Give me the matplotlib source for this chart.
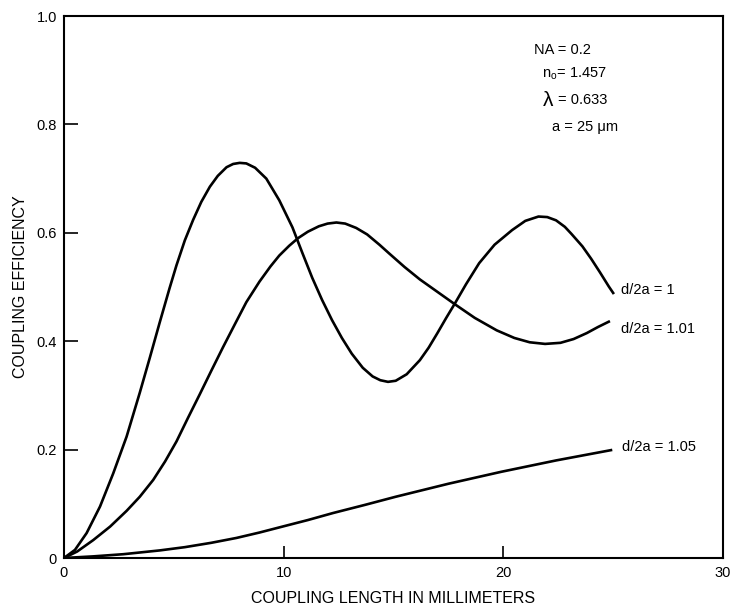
import matplotlib
matplotlib.use('Agg')
import matplotlib.pyplot as plt

plt.rcParams['font.family'] = ['Liberation Sans', 'DejaVu Sans']
plt.rcParams['mathtext.fontset'] = 'custom'
plt.rcParams['mathtext.rm'] = 'Liberation Sans'

# d/2a = 1
x1 = [0, 0.5, 1.03, 1.64, 2.24, 2.85, 3.45, 3.91, 4.36, 4.8, 5.12, 5.5, 5.88, 6.25, 6.64,
      7.0, 7.4, 7.7, 8.0, 8.3, 8.7, 9.21, 9.8, 10.4, 10.85, 11.3, 11.75, 12.2, 12.65, 13.1,
      13.6, 14.05, 14.4, 14.75, 15.1, 15.6, 16.2, 16.6, 17.0, 17.4, 17.8, 18.3, 18.9, 19.6,
      20.4, 21.0, 21.6, 22.0, 22.4, 22.8, 23.1, 23.6, 24.0, 24.4, 24.8, 25.0]
y1 = [0, 0.015, 0.046, 0.095, 0.156, 0.224, 0.305, 0.370, 0.435, 0.497, 0.540, 0.586, 0.624,
      0.657, 0.685, 0.705, 0.721, 0.727, 0.729, 0.728, 0.720, 0.700, 0.660, 0.610, 0.563, 0.517,
      0.476, 0.439, 0.406, 0.377, 0.351, 0.335, 0.328, 0.325, 0.327, 0.339, 0.365, 0.388, 0.415,
      0.443, 0.470, 0.505, 0.544, 0.578, 0.605, 0.622, 0.630, 0.629, 0.623, 0.611, 0.598,
      0.575, 0.552, 0.527, 0.501, 0.489]

# d/2a = 1.01
x2 = [0, 0.6, 1.33, 2.1, 2.85, 3.45, 4.06, 4.6, 5.12, 5.65, 6.18, 6.7, 7.24, 7.8, 8.3, 8.9,
      9.4, 9.8, 10.25, 10.65, 11.1, 11.6, 12.0, 12.4, 12.8, 13.3, 13.8, 14.36, 14.8, 15.5,
      16.2, 17.0, 17.8, 18.7, 19.7, 20.5, 21.2, 21.9, 22.6, 23.2, 23.8, 24.3, 24.8]
y2 = [0, 0.012, 0.033, 0.058, 0.087, 0.113, 0.144, 0.178, 0.215, 0.259, 0.302, 0.345, 0.389,
      0.433, 0.472, 0.510, 0.538, 0.558, 0.576, 0.590, 0.602, 0.612, 0.617, 0.619, 0.617, 0.609,
      0.597, 0.578, 0.562, 0.537, 0.514, 0.491, 0.468, 0.443, 0.420, 0.406, 0.398, 0.395, 0.397,
      0.404, 0.415, 0.426, 0.436]

# d/2a = 1.05
x3 = [0, 1.33, 2.7, 4.36, 5.5, 6.7, 7.85, 8.9, 9.95, 11.1, 12.25, 13.7, 15.1, 17.5, 19.9,
      22.4, 24.9]
y3 = [0, 0.003, 0.007, 0.014, 0.020, 0.028, 0.037, 0.047, 0.058, 0.070, 0.083, 0.098, 0.113,
      0.137, 0.159, 0.180, 0.199]

xticks = [0, 10, 20, 30]
xticklabels = ['0', '10', '20', '30']
yticks = [0, 0.2, 0.4, 0.6, 0.8, 1.0]
yticklabels = ['0', '0.2', '0.4', '0.6', '0.8', '1.0']

fig = plt.figure(figsize=(7.34, 6.05), dpi=100)
ax = fig.add_axes([64/734, 47/605, 659/734, 542/605])

for xs, ys in [(x1, y1), (x2, y2), (x3, y3)]:
    ax.plot(xs, ys, color='black', lw=1.9, solid_joinstyle='round')

ax.set_xlim(0, 30)
ax.set_ylim(0, 1.0)
ax.set_xticks(xticks)
ax.set_xticklabels(xticklabels)
ax.set_yticks(yticks)
ax.set_yticklabels(yticklabels)
ax.tick_params(axis='x', direction='in', length=9, width=1.2, pad=6, labelsize=10.5)
ax.tick_params(axis='y', direction='in', length=10, width=1.2, pad=5, labelsize=10.5)
for s in ax.spines.values():
    s.set_linewidth(1.5)

ax.set_xlabel('COUPLING LENGTH IN MILLIMETERS', fontsize=11.5, labelpad=8)
ax.set_ylabel('COUPLING EFFICIENCY', fontsize=11.5, labelpad=6)

ax.text(25.36, 0.494, 'd/2a = 1', fontsize=10.5, va='center', ha='left')
ax.text(25.36, 0.422, 'd/2a = 1.01', fontsize=10.5, va='center', ha='left')
ax.text(25.4, 0.205, 'd/2a = 1.05', fontsize=10.5, va='center', ha='left')

ax.text(21.4, 0.937, 'NA = 0.2', fontsize=10.5, va='center', ha='left')
ax.text(21.75, 0.893, r'n$_\mathregular{o}$= 1.457', fontsize=10.5, va='center', ha='left')
ax.text(21.8, 0.845, 'λ', fontsize=15, va='center', ha='left')
ax.text(22.5, 0.845, '= 0.633', fontsize=10.5, va='center', ha='left')
ax.text(22.2, 0.795, 'a = 25 μm', fontsize=10.5, va='center', ha='left')

fig.savefig('out.png', dpi=100)
